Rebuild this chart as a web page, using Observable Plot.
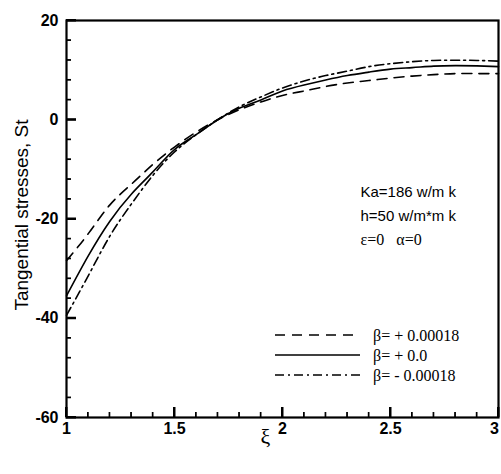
<!DOCTYPE html>
<html><head><meta charset="utf-8">
<script src="https://cdn.jsdelivr.net/npm/d3@7"></script>
<script src="https://cdn.jsdelivr.net/npm/@observablehq/plot@0.6"></script>
<style>body{margin:0;background:#fff;} #chart svg{display:block;}</style>
</head><body><div id="chart"></div>
<script>
const xi = [1.0,1.1,1.2,1.3,1.4,1.5,1.6,1.7,1.8,1.9,2.0,2.1,2.2,2.3,2.4,2.5,2.6,2.7,2.8,2.9,3.0];
const betaPos  = [-28.4,-23.0,-17.2,-13.0,-9.0,-5.5,-2.5,0.0,2.0,3.6,4.9,5.8,6.7,7.4,7.9,8.4,8.8,9.1,9.3,9.3,9.3];
const betaZero = [-35.5,-27.5,-20.5,-15.0,-10.5,-6.0,-3.0,0.0,2.3,4.0,5.8,7.0,8.0,8.9,9.6,10.2,10.5,10.8,10.9,10.85,10.7];
const betaNeg  = [-39.4,-31.5,-23.5,-17.0,-11.2,-6.5,-3.0,0.0,2.6,4.6,6.4,7.8,8.9,9.8,10.7,11.3,11.7,11.95,12.0,11.95,11.8];
const seriesLabels = ["β= + 0.00018", "β= + 0.0", "β= - 0.00018"];
const seriesDash = ["10,7", null, "9,4,2,4"];
const xDomain = [1, 3];
const yDomain = [-60, 20];
const xTicks = [1, 1.5, 2, 2.5, 3];
const xTickLabels = ["1", "1.5", "2", "2.5", "3"];
const xMinor = [1.1,1.2,1.3,1.4,1.6,1.7,1.8,1.9,2.1,2.2,2.3,2.4,2.6,2.7,2.8,2.9];
const yTicks = [-60, -40, -20, 0, 20];
const yTickLabels = ["-60", "-40", "-20", "0", "20"];
const yMinor = [-56,-52,-48,-44,-36,-32,-28,-24,-16,-12,-8,-4,4,8,12,16];
const annotations = ["Ka=186 w/m k", "h=50 w/m*m k", "ε=0   α=0"];
const xLabel = "ξ";
const yLabel = "Tangential stresses, St";

const seriesValues = [betaPos, betaZero, betaNeg];
const rows = seriesValues.flatMap((vals, s) => xi.map((x, i) => ({x, y: vals[i], s})));

const W = 501, H = 474, ML = 66, MR = 3, MT = 20, MB = 57;
const frameW = W - ML - MR, frameH = H - MT - MB;
const serif = "'Liberation Serif','Times New Roman',serif";

function ticksMark() {
  const sx = d3.scaleLinear(xDomain, [ML, W - MR]);
  const sy = d3.scaleLinear(yDomain, [H - MB, MT]);
  const g = d3.create("svg:g");
  const add = (x1, y1, x2, y2, w) => g.append("line")
    .attr("x1", x1).attr("y1", y1).attr("x2", x2).attr("y2", y2)
    .attr("stroke", "#000").attr("stroke-width", w);
  for (const v of yMinor) add(ML, sy(v), ML + 5, sy(v), 1.2);
  for (const v of yTicks) add(ML, sy(v), ML + 10, sy(v), 2);
  for (const v of xMinor) add(sx(v), H - MB, sx(v), H - MB - 5, 1.2);
  for (const v of xTicks) add(sx(v), H - MB, sx(v), H - MB - 10, 2);
  return g.node();
}

function legendMark() {
  const g = d3.create("svg:g");
  const x0 = ML + 209, x1 = ML + 294, tx = ML + 307;
  const ys = [335, 355, 375];
  seriesLabels.forEach((lab, i) => {
    g.append("line").attr("x1", x0).attr("x2", x1).attr("y1", ys[i]).attr("y2", ys[i])
      .attr("stroke", "#000").attr("stroke-width", 1.6)
      .attr("stroke-dasharray", seriesDash[i]);
    g.append("text").attr("x", tx).attr("y", ys[i]).attr("dy", "0.35em")
      .attr("text-anchor", "start")
      .attr("font-family", serif).attr("font-size", 16)
      .attr("fill", "#000").text(lab);
  });
  return g.node();
}

const lastX = xTicks[xTicks.length - 1];

const chart = Plot.plot({
  width: W, height: H,
  marginLeft: ML, marginRight: MR, marginTop: MT, marginBottom: MB,
  style: {fontFamily: "'Liberation Sans', Arial, sans-serif", background: "#fff", color: "#000"},
  x: {domain: xDomain},
  y: {domain: yDomain},
  marks: [
    Plot.axisX(xTicks.slice(0, -1), {tickSize: 0, tickPadding: 5, fontSize: 16, fontWeight: "bold", label: null,
      tickFormat: d => xTickLabels[xTicks.indexOf(d)]}),
    Plot.axisX([lastX], {tickSize: 0, tickPadding: 5, fontSize: 16, fontWeight: "bold", label: null, dx: -4,
      tickFormat: d => xTickLabels[xTicks.indexOf(d)]}),
    Plot.axisY(yTicks, {tickSize: 0, tickPadding: 8, fontSize: 16, fontWeight: "bold", label: null,
      tickFormat: d => yTickLabels[yTicks.indexOf(d)]}),
    ...seriesValues.map((_, s) => Plot.line(rows.filter(r => r.s === s), {
      x: "x", y: "y", curve: "natural", stroke: "#000", strokeWidth: 1.6,
      strokeDasharray: seriesDash[s]
    })),
    Plot.ruleX(xMinor, {x: d => d, insetTop: frameH - 5, stroke: "#000", strokeWidth: 1.2}),
    Plot.ruleX(xTicks, {x: d => d, insetTop: frameH - 10, stroke: "#000", strokeWidth: 2}),
    Plot.ruleY(yMinor, {y: d => d, insetRight: frameW - 5, stroke: "#000", strokeWidth: 1.2}),
    Plot.ruleY(yTicks, {y: d => d, insetRight: frameW - 10, stroke: "#000", strokeWidth: 2}),
    ticksMark,
    Plot.frame({stroke: "#000", strokeWidth: 2.2}),
    Plot.text([yLabel], {text: d => d, frameAnchor: "left", textAnchor: "middle", rotate: -90, dx: -45, dy: -4, fontSize: 19}),
    Plot.text([xLabel], {text: d => d, frameAnchor: "bottom", dx: -17, dy: 26, fontSize: 22, fontFamily: serif}),
    Plot.text([annotations[0]], {text: d => d, frameAnchor: "top-left", textAnchor: "start", lineAnchor: "middle",
      dx: 294, dy: 172, fontSize: 15}),
    Plot.text([annotations[1]], {text: d => d, frameAnchor: "top-left", textAnchor: "start", lineAnchor: "middle",
      dx: 294, dy: 196, fontSize: 15}),
    Plot.text([annotations[2]], {text: d => d, frameAnchor: "top-left", textAnchor: "start", lineAnchor: "middle",
      dx: 294, dy: 219, fontSize: 16, fontFamily: serif}),
    legendMark
  ]
});
document.getElementById("chart").append(chart);
</script>
</body></html>
